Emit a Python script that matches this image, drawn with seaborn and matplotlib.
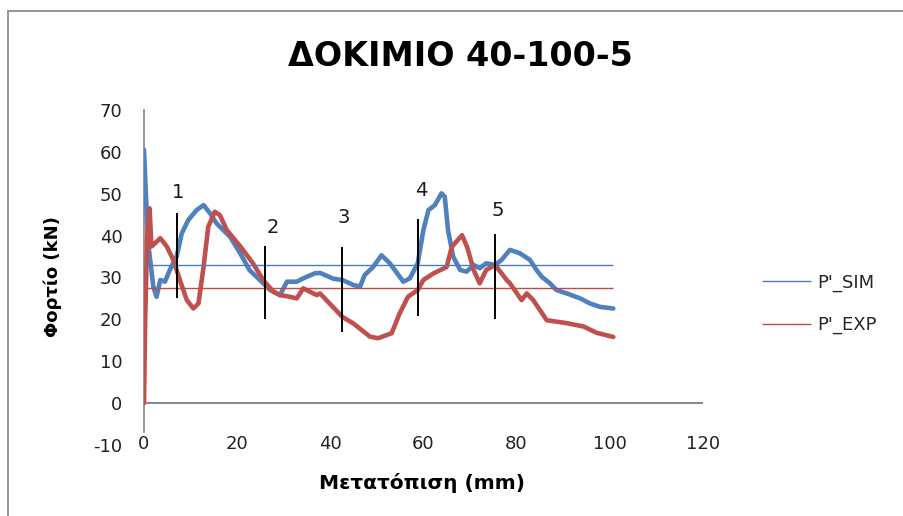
import numpy as np
import pandas as pd
import matplotlib
matplotlib.use("Agg")
import matplotlib.pyplot as plt
import seaborn as sns
from matplotlib.patches import Rectangle

# --- Load-displacement data (mm, kN) ---
sim_disp = [0.0, 0.4, 0.9, 2.0, 2.7, 3.5, 4.5, 5.5, 7.0, 8.1, 9.5, 11.3, 12.8, 14.2,
            15.6, 18.5, 20.7, 22.7, 24.9, 27.1, 29.2, 30.7, 32.8, 34.2, 36.7, 37.8,
            40.7, 42.6, 45.0, 46.4, 47.4, 49.2, 51.0, 52.8, 55.7, 57.1, 58.8, 60.0,
            61.1, 62.5, 63.9, 64.6, 65.3, 66.4, 67.9, 69.3, 70.8, 72.1, 73.5, 75.4,
            76.8, 78.6, 80.7, 82.9, 84.3, 85.4, 87.2, 88.6, 90.8, 93.7, 95.8, 97.9,
            100.8]
sim_load = [60.5, 50.0, 38.2, 27.8, 25.4, 29.4, 29.0, 31.7, 35.0, 40.5, 43.7, 46.1,
            47.3, 45.3, 42.9, 39.7, 35.7, 31.7, 29.4, 27.0, 25.8, 29.0, 29.0, 29.8,
            31.0, 31.1, 29.7, 29.4, 28.2, 27.8, 30.6, 32.5, 35.3, 33.4, 29.0, 29.8,
            33.4, 41.3, 46.1, 47.3, 50.1, 49.3, 41.3, 35.0, 31.8, 31.4, 33.0, 32.2,
            33.4, 33.0, 34.2, 36.6, 35.8, 34.2, 31.8, 30.2, 28.6, 27.0, 26.2, 25.0,
            23.8, 23.0, 22.6]

exp_disp = [0.0, 0.25, 0.7, 1.2, 1.6, 2.4, 3.5, 4.9, 6.3, 7.7, 9.2, 10.6, 11.7, 12.8,
            13.8, 15.2, 16.3, 17.8, 20.7, 23.4, 25.6, 27.8, 29.2, 31.3, 32.8, 34.2,
            37.1, 37.8, 42.6, 45.0, 48.5, 50.3, 53.2, 54.9, 56.7, 58.8, 60.0, 62.2,
            65.0, 66.1, 68.3, 69.4, 70.8, 72.1, 73.5, 75.4, 77.9, 78.6, 81.1, 82.2,
            83.6, 86.5, 90.8, 94.4, 97.2, 100.8]
exp_load = [0.0, 20.0, 40.0, 46.5, 37.4, 38.2, 39.4, 37.4, 34.2, 29.4, 24.6, 22.6,
            23.8, 32.6, 42.1, 45.7, 44.9, 41.3, 37.4, 33.4, 29.4, 26.6, 25.8, 25.4,
            25.0, 27.4, 25.8, 26.2, 20.6, 19.0, 15.9, 15.5, 16.7, 21.4, 25.4, 27.0,
            29.4, 31.0, 32.5, 37.3, 40.1, 37.3, 31.8, 28.6, 31.8, 33.0, 29.4, 28.6,
            24.6, 26.2, 24.6, 19.8, 19.1, 18.3, 16.8, 15.8]

# Average load levels
sim_mean = 33.0
exp_mean = 27.4

# Stage markers: position, lower and upper extent, label position
stage_labels = ["1", "2", "3", "4", "5"]
stage_x = [7.0, 26.0, 42.6, 58.8, 75.4]
stage_low = [25.1, 20.1, 17.0, 20.9, 20.0]
stage_high = [45.4, 37.6, 37.3, 43.9, 40.5]
stage_label_x = [7.3, 27.7, 42.95, 59.5, 75.9]
stage_label_y = [50.3, 41.9, 44.3, 50.7, 46.0]

x_ticks = [0, 20, 40, 60, 80, 100, 120]
y_ticks = [-10, 0, 10, 20, 30, 40, 50, 60, 70]

BLUE = "#4F81BD"
RED = "#C0504D"
BLUE_THIN = "#4A7EBB"
RED_THIN = "#BE4B48"
GRAY = "#868686"

sns.set_style("white")
plt.rcParams["font.family"] = ["DejaVu Sans"]
plt.rcParams["axes.unicode_minus"] = False

df = pd.concat([
    pd.DataFrame({"disp": sim_disp, "load": sim_load, "series": "SIM"}),
    pd.DataFrame({"disp": exp_disp, "load": exp_load, "series": "EXP"}),
], ignore_index=True)

fig = plt.figure(figsize=(9.04, 5.16), dpi=100)
ax = fig.add_axes([144 / 904, 1 - 445 / 516, (702.7 - 144) / 904, (445 - 110) / 516])

sns.lineplot(data=df, x="disp", y="load", hue="series", palette={"SIM": BLUE, "EXP": RED},
             hue_order=["SIM", "EXP"], estimator=None, sort=False, linewidth=3.3,
             legend=False, ax=ax, zorder=3)

x_end = max(max(sim_disp), max(exp_disp))
ax.hlines(sim_mean, 0, x_end, color=BLUE_THIN, linewidth=1.0, zorder=4, label="P'_SIM")
ax.hlines(exp_mean, 0, x_end, color=RED_THIN, linewidth=1.0, zorder=4, label="P'_EXP")

# Stage markers
ax.vlines(stage_x, stage_low, stage_high, color="black", linewidth=1.4, zorder=5)
for lab, lx, ly in zip(stage_labels, stage_label_x, stage_label_y):
    ax.text(lx, ly, lab, ha="center", va="center", fontsize=14, color="#1a1a1a", zorder=6)

# Horizontal axis at zero load
ax.axhline(0, color=GRAY, linewidth=1.4, zorder=2)

ax.set_xlim(0, 120)
ax.set_ylim(-10, 70)
ax.set_xticks(x_ticks)
ax.set_yticks(y_ticks)
ax.set_xlabel("")
ax.set_ylabel("")
ax.tick_params(axis="both", length=0, labelsize=13, colors="#222222")
ax.tick_params(axis="y", pad=15.5)
ax.tick_params(axis="x", pad=-7.5)

for side in ["top", "right", "bottom"]:
    ax.spines[side].set_visible(False)
ax.spines["left"].set_color(GRAY)
ax.spines["left"].set_linewidth(1.2)
ax.spines["left"].set_bounds(-7.0, 70)

fig.text(460 / 904, 1 - 66 / 516, "ΔΟΚΙΜΙΟ 40-100-5", ha="center", va="baseline",
         fontsize=24, fontweight="bold", color="black")
fig.text(422 / 904, 1 - 489 / 516, "Μετατόπιση (mm)", ha="center", va="baseline",
         fontsize=14.5, fontweight="bold", color="black")
fig.text(53 / 904, 1 - 277 / 516, "Φορτίο (kN)", ha="center", va="center", rotation=90,
         fontsize=13, fontweight="bold", color="black")

leg = fig.legend(handles=ax.get_legend_handles_labels()[0][-2:],
                 labels=["P'_SIM", "P'_EXP"], loc="center left",
                 bbox_to_anchor=(746 / 904, 1 - 304 / 516), frameon=False,
                 fontsize=13, handlelength=2.7, handletextpad=0.35, labelspacing=1.35)

# Chart-area border
fig.patches.append(Rectangle((8 / 904, -0.1), 1.2, 1 - 10.5 / 516 + 0.1,
                             transform=fig.transFigure, fill=False,
                             edgecolor="#8c8c8c", linewidth=1.3))

fig.savefig("out.png", dpi=100, facecolor="white")
